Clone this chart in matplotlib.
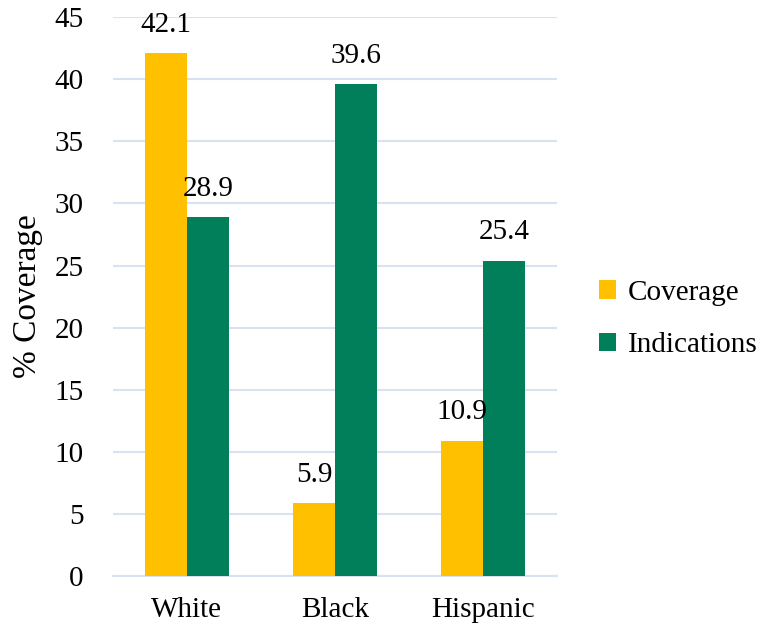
import numpy as np
import matplotlib.pyplot as plt

groups = ["White", "Black", "Hispanic"]
coverage = [42.1, 5.9, 10.9]
indications = [28.9, 39.6, 25.4]

plt.rcParams['font.family'] = ['Liberation Serif', 'DejaVu Serif']

fig = plt.figure(figsize=(7.63, 6.31), dpi=100)
ax = fig.add_axes([0.148, 0.087, 0.582, 0.886])

x = np.arange(len(groups))
w = 0.284
b1 = ax.bar(x - w / 2, coverage, w, color="#FFC000", label="Coverage", zorder=3)
b2 = ax.bar(x + w / 2, indications, w, color="#007F5A", label="Indications", zorder=3)

for bars in (b1, b2):
    for r in bars:
        ax.annotate(f"{r.get_height():.1f}", (r.get_x() + r.get_width() / 2, r.get_height()),
                    xytext=(0, 11), textcoords="offset points", ha="center", va="bottom",
                    fontsize=21)

ax.set_ylim(0, 45)
ax.set_yticks(range(0, 46, 5))
ax.set_xlim(-0.5, 2.5)
ax.set_xticks(x)
ax.set_xticklabels(groups)
ax.tick_params(length=0, labelsize=21)
ax.tick_params(axis="x", pad=15)
ax.tick_params(axis="y", pad=21)
ax.grid(axis="y", color="#D9E2F3", linewidth=1.5, zorder=0)
for s in ["top", "right", "left"]:
    ax.spines[s].set_visible(False)
ax.spines["bottom"].set_color("#D9E2F3")
ax.spines["bottom"].set_linewidth(1.5)
ax.set_ylabel("% Coverage", fontsize=24, labelpad=8)

ax.legend(loc="center left", bbox_to_anchor=(1.035, 0.46), frameon=False, fontsize=21,
          handlelength=0.6, handleheight=0.6, handletextpad=0.4, labelspacing=0.9)

fig.savefig("out.png", dpi=100)
